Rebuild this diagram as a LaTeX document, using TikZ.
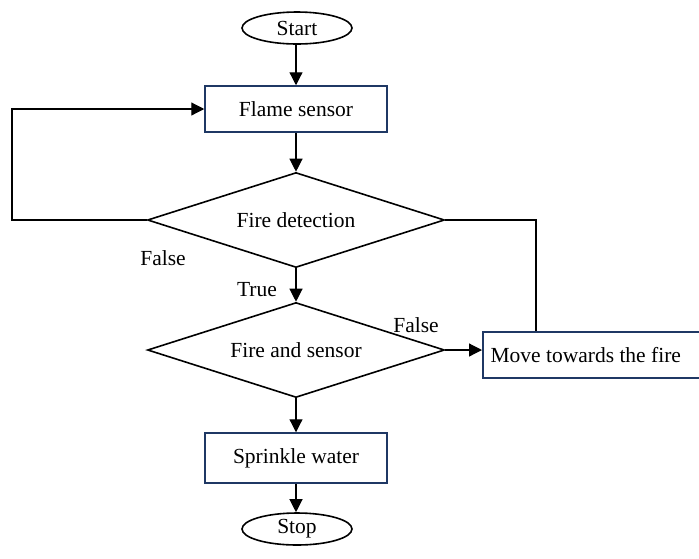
\documentclass[tikz,border=0pt]{standalone}
\usepackage{fontspec}
\setmainfont{Liberation Serif}
\usetikzlibrary{shapes.geometric,arrows.meta}
\definecolor{boxblue}{HTML}{1F3864}
\begin{document}
\begin{tikzpicture}[x=1pt,y=-1pt,
  every node/.style={font=\fontsize{21.5}{25}\selectfont},
  term/.style={draw,ellipse,line width=1.6pt,minimum width=110pt,minimum height=32pt,inner sep=0pt},
  proc/.style={draw=boxblue,line width=1.5pt,minimum width=182pt,minimum height=46pt,inner sep=0pt},
  test/.style={draw,diamond,aspect=3.1,line width=1.6pt,minimum width=297pt,minimum height=95pt,inner sep=0pt},
  link/.style={line width=1.2pt,-{Triangle[length=13pt,width=13pt]}},
  wire/.style={line width=1.2pt}]
\useasboundingbox (0,0) rectangle (699,558);
\def\midx{296}

\node[term] (start) at (\midx+1,28) {Start};
\node[proc] (flame) at (\midx,109) {Flame sensor};
\node[test] (detect) at (\midx,220) {Fire detection};
\node[test] (check) at (\midx,350) {Fire and sensor};
\node[proc,anchor=west,minimum width=240pt] (move) at (482,355) {\hspace*{-34pt}Move towards the fire};
\node[proc,minimum height=50pt] (sprinkle) at (\midx,458) {Sprinkle water};
\node[term] (stop) at (\midx+1,529) {Stop};

\node (nofire) at (163,258) {False};
\node (yesfire) at (257,290) {True};
\node (nosense) at (416,325) {False};

\coordinate (loopleft) at (12,220);
\coordinate (loopright) at (536,220);

\draw[link] (start.south -| flame) -- (flame);
\draw[link] (flame) -- (detect);
\draw[link] (detect) -- (check);
\draw[link] (check) -- (sprinkle);
\draw[link] (sprinkle) -- (stop.north -| sprinkle);
\draw[link] (check.east) -- (check.east -| move.west);
\draw[link] (detect.west) -- (loopleft) |- (flame.west);
\draw[wire] (detect.east) -- (loopright) -- (loopright |- move.north);

\end{tikzpicture}
\end{document}
